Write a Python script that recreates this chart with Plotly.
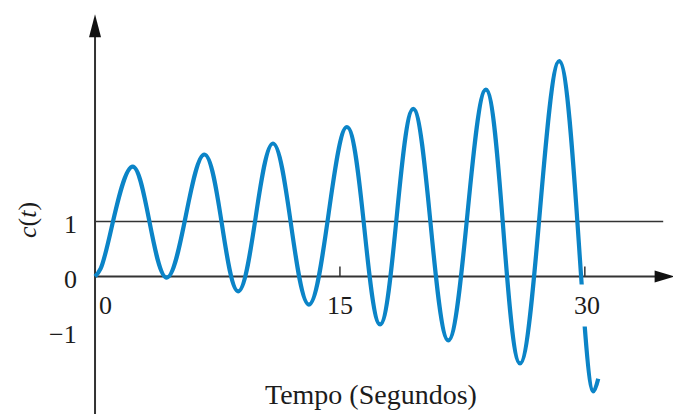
import plotly.graph_objects as go

# Response c(t): growing oscillation, given by its start and its extrema
t = [0, 0.35, 2.31, 4.39, 6.70, 8.77, 10.90, 13.10, 15.43, 17.46,
     19.49, 21.64, 23.94, 26.03, 28.43, 30.51, 30.82]
c = [0, 0.15, 2.00, -0.02, 2.22, -0.27, 2.42, -0.51, 2.72, -0.87,
     3.05, -1.16, 3.40, -1.58, 3.92, -2.09, -1.86]

x_tick_vals = [0, 15, 30]
x_tick_text = ["0", "15", "30"]
y_tick_vals = [1, 0, -1]
y_tick_text = ["1", "0", "\u22121"]
ref_level = 1

x_title = "Tempo (Segundos)"
y_title = "<i>c</i>(<i>t</i>)"

X_RANGE = [-5.82, 35.4]
Y_RANGE = [-2.5, 5.03]
PX_X = 673 / (X_RANGE[1] - X_RANGE[0])
PX_Y = 414 / (Y_RANGE[1] - Y_RANGE[0])

FONT = "Liberation Serif, Times New Roman, serif"
AXIS_COLOR = "#333333"
TEXT_COLOR = "#1c1c1c"

fig = go.Figure()
fig.add_trace(go.Scatter(
    x=t, y=c, mode="lines",
    line=dict(color="#0b84c7", width=4.2, shape="spline", smoothing=1.09),
    hoverinfo="skip", showlegend=False,
))

y_tip = 4.77
x_tip = 35.5
shapes = [
    # vertical axis
    dict(type="line", xref="x", yref="y", x0=0, x1=0, y0=Y_RANGE[0], y1=y_tip - 0.3,
         line=dict(color=AXIS_COLOR, width=2), layer="below"),
    # horizontal axis
    dict(type="line", xref="x", yref="y", x0=0, x1=x_tip - 0.9, y0=0, y1=0,
         line=dict(color=AXIS_COLOR, width=2), layer="below"),
    # reference level
    dict(type="line", xref="x", yref="y", x0=0, x1=34.8, y0=ref_level, y1=ref_level,
         line=dict(color=AXIS_COLOR, width=1.6), layer="below"),
    # arrowheads
    dict(type="path", xref="x", yref="y", xsizemode="pixel", ysizemode="pixel",
         xanchor=0, yanchor=y_tip, path="M0,0 L-6,-23 L6,-23 Z",
         fillcolor="#111111", line=dict(width=0)),
    dict(type="path", xref="x", yref="y", xsizemode="pixel", ysizemode="pixel",
         xanchor=x_tip, yanchor=0, path="M0,0 L-20,6 L-20,-6 Z",
         fillcolor="#111111", line=dict(width=0)),
]
for v in x_tick_vals[1:]:
    shapes.append(dict(type="line", xref="x", yref="y", x0=v, x1=v, y0=0, y1=10 / PX_Y,
                       line=dict(color=AXIS_COLOR, width=1.5), layer="below"))

annotations = []
for v, txt in zip(x_tick_vals, x_tick_text):
    ann = dict(x=v, y=0, xref="x", yref="y", text=txt, showarrow=False,
               xanchor="center", yanchor="middle", yshift=-29,
               font=dict(family=FONT, size=26, color=TEXT_COLOR))
    if v == 0:
        ann["xshift"] = 10
    if v == 30:
        ann.update(xshift=2, bgcolor="white", borderpad=6)
    annotations.append(ann)
for v, txt in zip(y_tick_vals, y_tick_text):
    annotations.append(dict(x=0, y=v, xref="x", yref="y", text=txt, showarrow=False,
                            xanchor="right", yanchor="middle", xshift=-16, yshift=-3,
                            font=dict(family=FONT, size=26, color=TEXT_COLOR)))
annotations.append(dict(x=0, y=1.03, xref="x", yref="y", text=y_title, showarrow=False,
                        xanchor="center", yanchor="middle", xshift=-67, textangle=-90,
                        font=dict(family=FONT, size=26, color=TEXT_COLOR)))
annotations.append(dict(x=16.9, y=-2.15, xref="x", yref="y", text=x_title, showarrow=False,
                        xanchor="center", yanchor="middle",
                        font=dict(family=FONT, size=28, color=TEXT_COLOR)))

fig.update_layout(
    width=673, height=414,
    margin=dict(l=0, r=0, t=0, b=0),
    paper_bgcolor="white", plot_bgcolor="white",
    xaxis=dict(range=X_RANGE, visible=False, fixedrange=True),
    yaxis=dict(range=Y_RANGE, visible=False, fixedrange=True),
    shapes=shapes, annotations=annotations,
)

fig.write_html("out.html")
